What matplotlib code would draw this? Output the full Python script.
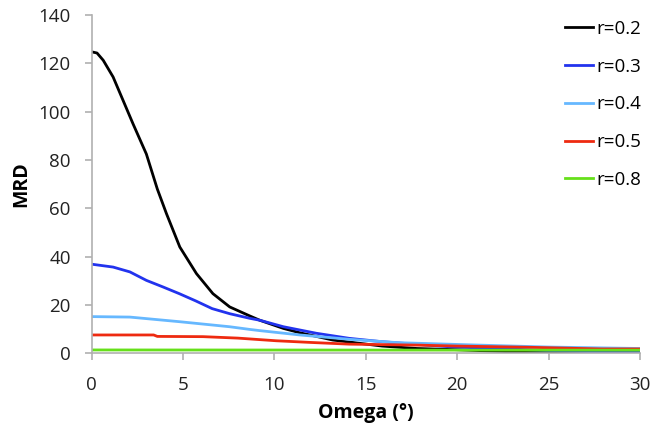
import matplotlib
matplotlib.use("Agg")
import matplotlib.pyplot as plt

# values
x_02 = [0, 0.3, 0.64, 1.18, 1.72, 2.27, 3.0, 3.6, 4.1, 4.83, 5.74, 6.64, 7.56, 8.65, 9.2, 10.5, 11.4, 13.2, 15.9, 17.8, 20, 23, 25, 30]
y_02 = [124.8, 124.3, 121.3, 114.4, 104.8, 95, 82.5, 68, 57.8, 44, 33, 24.7, 19.2, 15.5, 13.7, 10.3, 8.5, 5.5, 3.0, 2.0, 1.5, 0.6, 0.3, 0.2]

x_03 = [0, 1.18, 2.1, 3.0, 3.9, 4.8, 5.7, 6.6, 7.56, 8.65, 9.2, 10.5, 12.3, 14.1, 15.9, 19.6, 22, 25, 28, 30]
y_03 = [36.9, 35.7, 33.7, 30.2, 27.5, 24.7, 21.7, 18.5, 16.4, 14.5, 13.7, 11, 8.3, 6.2, 4.8, 2.7, 2.0, 1.2, 0.5, 0.4]

x_04 = [0, 2.1, 4.8, 7.56, 8.65, 9.2, 11.4, 14.1, 16.8, 21.2, 25, 30]
y_04 = [15.2, 15.0, 13.1, 11, 9.9, 9.4, 7.6, 5.8, 4.4, 3.4, 2.6, 2.0]

x_05 = [0, 3.4, 3.6, 6.1, 8, 10.1, 12, 14.1, 17.8, 20, 23.9, 27.9, 30]
y_05 = [7.6, 7.6, 7.0, 6.9, 6.3, 5.2, 4.5, 3.8, 3.4, 3.0, 2.5, 1.8, 1.8]

x_08 = [0, 30]
y_08 = [1.4, 1.3]

series = [
    (x_02, y_02, "r=0.2", "#000000"),
    (x_03, y_03, "r=0.3", "#2233ee"),
    (x_04, y_04, "r=0.4", "#66b8ff"),
    (x_05, y_05, "r=0.5", "#ee2a10"),
    (x_08, y_08, "r=0.8", "#66e01a"),
]

plt.rcParams['font.family'] = ['Open Sans', 'DejaVu Sans']

fig = plt.figure(figsize=(6.68, 4.26), dpi=100)
ax = fig.add_axes([0.137, 0.1706, 0.821, 0.794])

for xs, ys, lab, col in series:
    ax.plot(xs, ys, color=col, linewidth=2.0, label=lab)

ax.set_xlim(0, 30)
ax.set_ylim(0, 140)
ax.set_xticks([0, 5, 10, 15, 20, 25, 30])
ax.set_yticks(range(0, 141, 20))
ax.tick_params(labelsize=13.5, labelcolor='#222222', color='#b0b0b0', length=5, width=1.2)
ax.tick_params(axis='x', pad=11)
ax.tick_params(axis='y', pad=10)

for s in ['top', 'right']:
    ax.spines[s].set_visible(False)
for s in ['left', 'bottom']:
    ax.spines[s].set_color('#b0b0b0')
    ax.spines[s].set_linewidth(1.2)

ax.set_xlabel("Omega (°)", fontsize=14, fontweight='bold', labelpad=7)
ax.set_ylabel("MRD", fontsize=14, fontweight='bold', labelpad=5.5)

ax.legend(loc='upper left', bbox_to_anchor=(565 / 668, 1 - 20 / 426),
          bbox_transform=fig.transFigure, frameon=False, fontsize=13.5,
          borderaxespad=0, borderpad=0,
          handlelength=1.5, handletextpad=0.15, labelspacing=1.05)

fig.savefig("out.png", dpi=100)
